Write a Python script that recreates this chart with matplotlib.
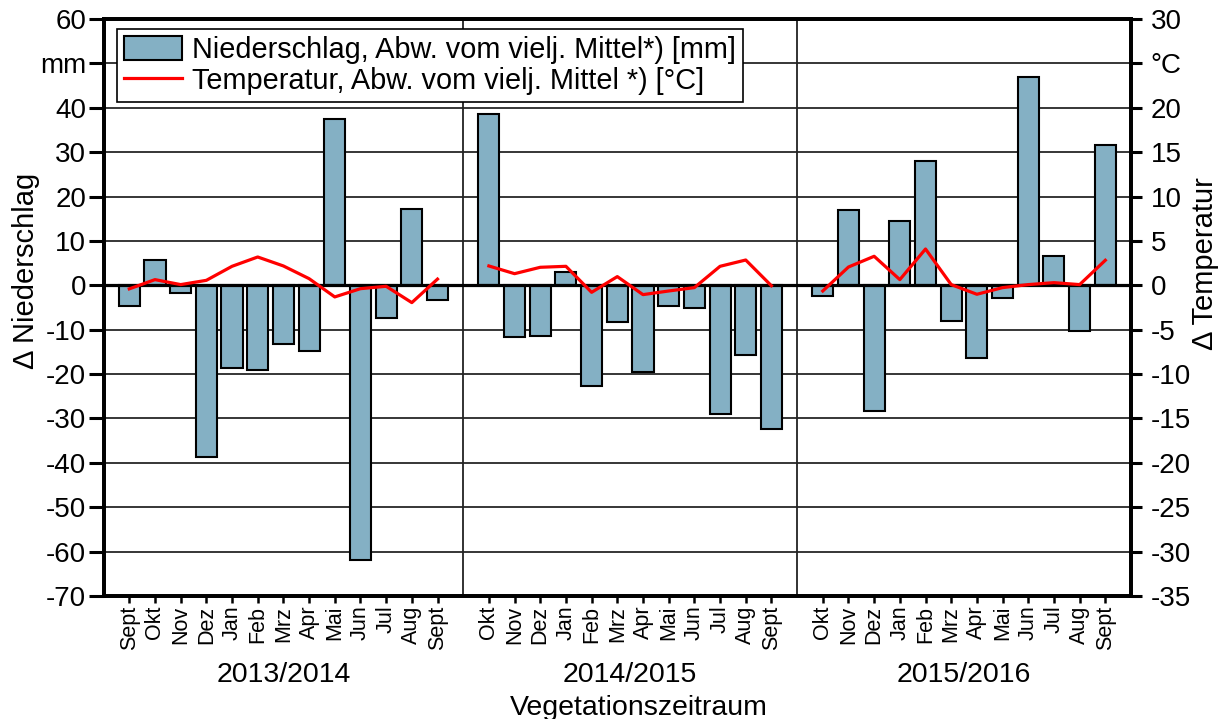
import matplotlib
matplotlib.use("Agg")
import matplotlib.pyplot as plt
import numpy as np

plt.rcParams['font.family'] = ['Liberation Sans', 'DejaVu Sans']

seasons = ["2013/2014", "2014/2015", "2015/2016"]
months_1 = ["Sept", "Okt", "Nov", "Dez", "Jan", "Feb", "Mrz", "Apr", "Mai", "Jun", "Jul", "Aug", "Sept"]
months_2 = ["Okt", "Nov", "Dez", "Jan", "Feb", "Mrz", "Apr", "Mai", "Jun", "Jul", "Aug", "Sept"]
months_3 = ["Okt", "Nov", "Dez", "Jan", "Feb", "Mrz", "Apr", "Mai", "Jun", "Jul", "Aug", "Sept"]

precip_1 = [-4.6, 5.6, -1.7, -38.7, -18.6, -19.0, -13.2, -14.7, 37.4, -61.9, -7.4, 17.3, -3.2]
precip_2 = [38.7, -11.6, -11.5, 2.9, -22.7, -8.2, -19.6, -4.6, -5.1, -28.9, -15.8, -32.4]
precip_3 = [-2.4, 17.0, -28.3, 14.5, 28.0, -8.0, -16.3, -2.9, 46.9, 6.6, -10.3, 31.5]

temp_1 = [-0.4, 0.64, 0.08, 0.56, 2.14, 3.19, 2.18, 0.75, -1.31, -0.38, -0.11, -1.95, 0.7]
temp_2 = [2.18, 1.31, 2.03, 2.14, -0.79, 0.98, -1.05, -0.64, -0.26, 2.14, 2.85, -0.05]
temp_3 = [-0.64, 2.06, 3.27, 0.64, 4.09, 0.08, -1.01, -0.26, 0.08, 0.3, 0.08, 2.82]

legend_labels = ["Niederschlag, Abw. vom vielj. Mittel*) [mm]",
                 "Temperatur, Abw. vom vielj. Mittel *) [°C]"]

groups = [(months_1, precip_1, temp_1), (months_2, precip_2, temp_2), (months_3, precip_3, temp_3)]

fig = plt.figure(figsize=(12.24, 7.19), dpi=100)
ax = fig.add_axes([103.6 / 1224, 1 - 596 / 719, (1131 - 103.6) / 1224, (596 - 19) / 719])
ax2 = ax.twinx()

bar_color = "#84B0C4"
pos = 1
all_pos, all_labels, centers, dividers = [], [], [], []
bar_handle = None
line_handle = None
for gi, (m, p, t) in enumerate(groups):
    x = np.arange(pos, pos + len(m))
    b = ax.bar(x, p, width=0.82, color=bar_color, edgecolor="black", linewidth=1.5, zorder=3)
    l, = ax2.plot(x, t, color="red", lw=2.3, zorder=4)
    bar_handle, line_handle = b, l
    all_pos.extend(x)
    all_labels.extend(m)
    centers.append(x.mean())
    pos = pos + len(m)
    if gi < len(groups) - 1:
        dividers.append(pos)
        pos += 1

ax.set_xlim(0, pos)
ax.set_ylim(-70, 60)
ax2.set_ylim(-35, 30)

for d in dividers:
    ax.axvline(d, color="#222222", lw=1.3, zorder=2)

yt = np.arange(-70, 61, 10)
ax.set_yticks(yt)
ax.set_yticklabels(["mm" if v == 50 else str(v) for v in yt])
yt2 = np.arange(-35, 31, 5)
ax2.set_yticks(yt2)
ax2.set_yticklabels(["°C" if v == 25 else str(v) for v in yt2])

ax.yaxis.grid(True, color="black", lw=1.1, zorder=1)
ax.set_axisbelow(True)
ax.axhline(0, color="black", lw=2.3, zorder=3.5)

ax.set_xticks(all_pos)
ax.set_xticklabels(all_labels, rotation=90, fontsize=15.5)
ax.tick_params(axis="x", length=5, width=1.8, pad=2)
ax.tick_params(axis="y", labelsize=20, length=11, width=2.2, pad=1.5, direction="out")
ax2.tick_params(axis="y", labelsize=20, length=8, width=2.2, pad=6, direction="out")

for a in (ax, ax2):
    for s in a.spines.values():
        s.set_linewidth(2.7)

trans = matplotlib.transforms.blended_transform_factory(ax.transData, fig.transFigure)
for c, s in zip(centers, seasons):
    ax.text(c, 1 - 682 / 719, s, transform=trans, ha="center", va="baseline", fontsize=20.5)

fig.text(639 / 1224, 1 - 715 / 719, "Vegetationszeitraum", ha="center", va="baseline", fontsize=20.5)
fig.text(26 / 1224, 1 - 271 / 719, "\u0394 Niederschlag", rotation=90, ha="center", va="center", fontsize=21)
fig.text(1205 / 1224, 1 - 264 / 719, "\u0394 Temperatur", rotation=90, ha="center", va="center", fontsize=21)

leg = ax.legend([bar_handle, line_handle], legend_labels, loc="upper left",
                bbox_to_anchor=((117 - 103.6) / 1027.4, (596 - 29) / 577),
                borderaxespad=0, fontsize=20.8, frameon=True, fancybox=False,
                edgecolor="black", framealpha=1, borderpad=0.25, labelspacing=0.1,
                handlelength=2.0, handleheight=0.9, handletextpad=0.35)
leg.get_frame().set_linewidth(1.2)
leg.set_zorder(10)

fig.savefig("out.png", dpi=100)
